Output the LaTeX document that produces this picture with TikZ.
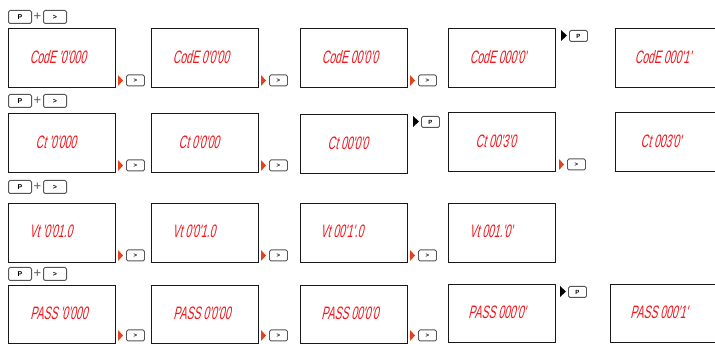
\documentclass[tikz,border=0pt]{standalone}
\usepackage{fontspec}
\setmainfont{Liberation Sans}
\newfontfamily\segfont[FakeStretch=0.58,FakeSlant=0.22]{Liberation Sans}
\definecolor{segred}{HTML}{F0151B}
\definecolor{arrred}{HTML}{E8401C}
\definecolor{keygray}{HTML}{555555}
\tikzset{
  disp/.style={draw=black!90, line width=1.35pt, minimum width=107pt, minimum height=59pt, inner sep=0pt, anchor=north west},
  displow/.style={disp, minimum height=58pt},
  segtxt/.style={text=segred, font=\segfont\fontsize{18}{18}\selectfont, inner sep=0pt},
  bigkey/.style={draw=keygray, line width=1pt, rounded corners=1.5pt, minimum width=23pt, minimum height=13pt, inner sep=0pt, anchor=north west, font=\bfseries\fontsize{7}{7}\selectfont},
  smallkey/.style={draw=keygray, line width=0.9pt, rounded corners=1.5pt, minimum width=18pt, minimum height=11pt, inner sep=0pt, anchor=north west, font=\bfseries\fontsize{6}{6}\selectfont},
  plus/.style={text=keygray, font=\fontsize{13}{13}\selectfont, inner sep=0pt},
}
\newcommand{\combo}[2]{% name prefix, top y
  \node[bigkey] (#1p) at (8,#2) {P};
  \node[plus] (#1plus) at (37.5,#2+6.5) {+};
  \node[bigkey] (#1g) at (43,#2) {>};
}
\newcommand{\nextkey}[3]{% name, box right x, box bottom y
  \fill[arrred] (#2+3,#3-12) -- (#2+8,#3-6.5) -- (#2+3,#3-1) -- cycle;
  \node[smallkey] (#1) at (#2+11,#3-12.5) {>};
}
\newcommand{\pkey}[3]{% name, triangle x, top y
  \fill[black] (#2,#3) -- (#2+6,#3+5.5) -- (#2,#3+11) -- cycle;
  \node[smallkey] (#1) at (#2+8,#3) {P};
}
\begin{document}
\begin{tikzpicture}[x=1pt,y=-1pt]
\useasboundingbox (0,0) rectangle (715,344);
\clip (0,0) rectangle (715,344);
% Row 1
\combo{ra}{10}
\node[disp] (a1) at (8,28) {};
\node[disp] (a2) at (151,28) {};
\node[disp] (a3) at (300,28) {};
\node[disp] (a4) at (448,28) {};
\node[disp] (a5) at (615,28) {};
\node[segtxt] (ta1) at (58,57) {CodE '0'000};
\node[segtxt] (ta2) at (201,57) {CodE 0'0'00};
\node[segtxt] (ta3) at (350,57) {CodE 00'0'0};
\node[segtxt] (ta4) at (498,57) {CodE 000'0'};
\node[segtxt] (ta5) at (663,57) {CodE 000'1'};
\nextkey{ka1}{115}{87}
\nextkey{ka2}{258}{87}
\nextkey{ka3}{407}{87}
\pkey{pa4}{561}{30}
% Row 2
\combo{rb}{94}
\node[disp] (b1) at (8,113) {};
\node[disp] (b2) at (151,113) {};
\node[disp] (b3) at (300,114) {};
\node[disp] (b4) at (448,112) {};
\node[disp] (b5) at (615,112) {};
\node[segtxt] (tb1) at (56,142) {Ct '0'000};
\node[segtxt] (tb2) at (199,142) {Ct 0'0'00};
\node[segtxt] (tb3) at (348,143) {Ct 00'0'0};
\node[segtxt] (tb4) at (496,141) {Ct 00'3'0};
\node[segtxt] (tb5) at (661,141) {Ct 003'0'};
\nextkey{kb1}{115}{172}
\nextkey{kb2}{258}{172}
\pkey{pb3}{413}{116}
\nextkey{kb4}{556}{171}
% Row 3
\combo{rc}{180}
\node[disp] (c1) at (8,203) {};
\node[disp] (c2) at (151,203) {};
\node[disp] (c3) at (300,203) {};
\node[disp] (c4) at (448,203) {};
\node[segtxt] (tc1) at (51,231) {Vt '0'01.0};
\node[segtxt] (tc2) at (194,231) {Vt 0'0'1.0};
\node[segtxt] (tc3) at (342,231) {Vt 00'1'.0};
\node[segtxt] (tc4) at (491,231) {Vt 001.'0'};
\nextkey{kc1}{115}{262}
\nextkey{kc2}{258}{262}
\nextkey{kc3}{407}{262}
% Row 4
\combo{rd}{267}
\node[displow] (d1) at (8,285) {};
\node[displow] (d2) at (151,285) {};
\node[displow] (d3) at (300,285) {};
\node[displow] (d4) at (448,284) {};
\node[displow] (d5) at (610,284) {};
\node[segtxt] (td1) at (59,313) {PASS '0'000};
\node[segtxt] (td2) at (202,313) {PASS 0'0'00};
\node[segtxt] (td3) at (350,313) {PASS 00'0'0};
\node[segtxt] (td4) at (497,312) {PASS 000'0'};
\node[segtxt] (td5) at (659,312) {PASS 000'1'};
\nextkey{kd1}{115}{342}
\nextkey{kd2}{258}{342}
\nextkey{kd3}{407}{342}
\pkey{pd4}{560}{286}
\end{tikzpicture}
\end{document}
